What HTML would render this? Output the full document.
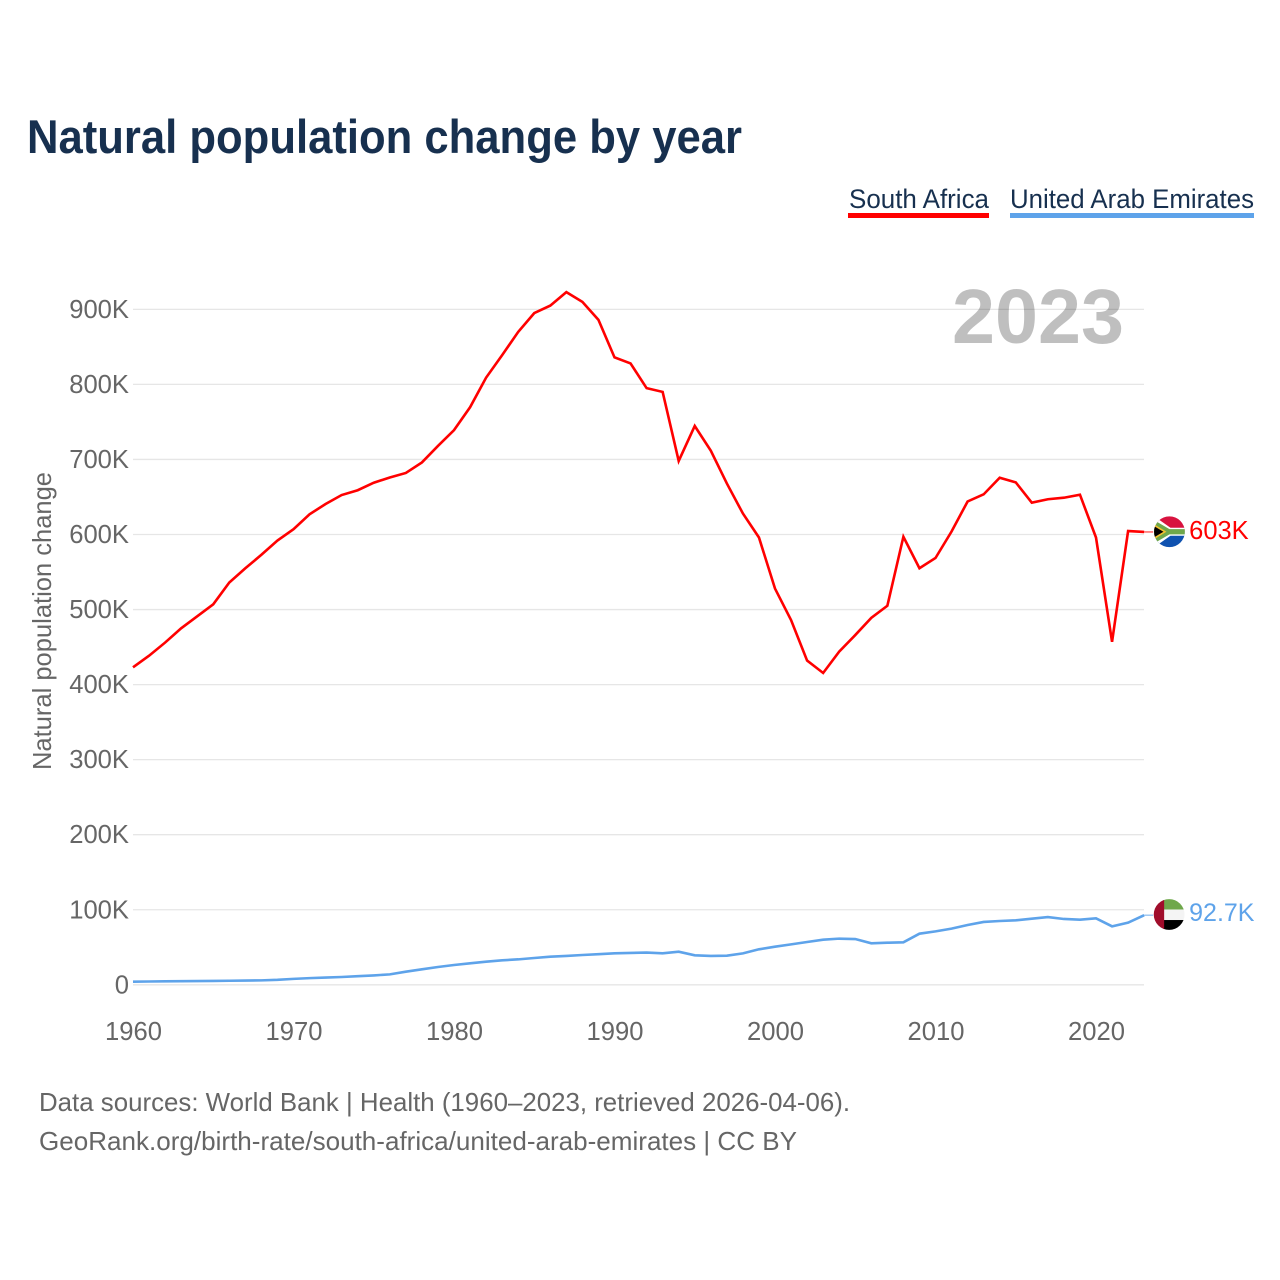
<!DOCTYPE html>
<html lang="en">
<head>
<meta charset="utf-8">
<title>Natural population change by year</title>
<style>
  html, body { margin: 0; padding: 0; background: #fff; }
  svg { display: block; font-family: "Liberation Sans", sans-serif; }
  .tick { font-size: 25.6px; fill: #666; }
  .foot { font-size: 26px; fill: #666; }
  .legend { font-size: 27px; fill: #17304f; }
</style>
</head>
<body>
<svg id="chart" xmlns="http://www.w3.org/2000/svg" width="1280" height="1280" viewBox="0 0 1280 1280">
  <defs>
    <clipPath id="flag-clip"><circle cx="0" cy="0" r="15.4"></circle></clipPath>
  </defs>
  <rect width="1280" height="1280" fill="#fff"></rect>

  <text x="27" y="153" font-size="47" font-weight="700" fill="#17304f" textLength="715" lengthAdjust="spacingAndGlyphs">Natural population change by year</text>

  <g>
    <text class="legend" x="849" y="208" textLength="140" lengthAdjust="spacingAndGlyphs">South Africa</text>
    <rect x="848" y="213" width="141" height="5" fill="#ff0000"></rect>
  </g>
  <g>
    <text class="legend" x="1010" y="208" textLength="244" lengthAdjust="spacingAndGlyphs">United Arab Emirates</text>
    <rect x="1010" y="213" width="244" height="5" fill="#5ea3ea"></rect>
  </g>

  <g id="grid"></g>
  <g id="yticks"></g>
  <g id="xticks"></g>

  <text class="tick" transform="translate(51 621) rotate(-90)" text-anchor="middle" textLength="298" lengthAdjust="spacingAndGlyphs">Natural population change</text>

  <text x="1124" y="343" text-anchor="end" font-size="77" font-weight="700" fill="#000" fill-opacity="0.25" textLength="172" lengthAdjust="spacingAndGlyphs">2023</text>

  <g id="series"></g>

  <g id="flag-za" clip-path="url(#flag-clip)">
    <rect x="-16" y="-16" width="32" height="16" fill="#d8133f"></rect>
    <rect x="-16" y="0" width="32" height="16" fill="#0f52b0"></rect>
    <path d="M-16 -16 L1 -4 L16 -4 L16 4 L1 4 L-16 16 Z" fill="#fff"></path>
    <path d="M-16 -12 L0 -2.6 L16 -2.6 L16 2.6 L0 2.6 L-16 12 Z" fill="#6fa84b"></path>
    <path d="M-16 -8 L-3 0 L-16 8 Z" fill="#f2c230"></path>
    <path d="M-16 -6 L-6 0 L-16 6 Z" fill="#000"></path>
  </g>
  <g id="flag-ae" clip-path="url(#flag-clip)">
    <rect x="-6" y="-16" width="22" height="11" fill="#6fa84b"></rect>
    <rect x="-6" y="-5" width="22" height="10.5" fill="#f4f4f4"></rect>
    <rect x="-6" y="5.5" width="22" height="11" fill="#000"></rect>
    <rect x="-16" y="-16" width="11" height="32" fill="#a00d2b"></rect>
  </g>

  <g id="end-labels"></g>

  <text class="foot" x="39" y="1111" textLength="811" lengthAdjust="spacingAndGlyphs">Data sources: World Bank | Health (1960–2023, retrieved 2026-04-06).</text>
  <text class="foot" x="39" y="1150" textLength="758" lengthAdjust="spacingAndGlyphs">GeoRank.org/birth-rate/south-africa/united-arab-emirates | CC BY</text>
</svg>

<script>
const firstYear = 1960;
const yTickValues = [0, 100, 200, 300, 400, 500, 600, 700, 800, 900];
const xTickYears = [1960, 1970, 1980, 1990, 2000, 2010, 2020];
const southAfrica = [423, 438.5, 456, 475, 491, 507, 536, 555, 573, 592,
  607, 627, 640.6, 652.6, 659, 669, 676, 682, 696, 718,
  739, 769.5, 809, 839, 870, 895, 905, 923, 910, 886,
  836, 828, 795, 790, 698, 744.6, 711.7, 668, 628, 596,
  528, 486, 432, 415.5, 444, 466, 489, 505, 597, 555,
  568.7, 604, 644, 653.5, 675.7, 669.5, 642.4, 647, 649, 653,
  596, 457, 604.6, 603.4];
const uae = [4.2, 4.4, 4.6, 4.8, 5, 5.2, 5.4, 5.6, 5.9, 6.6,
  7.9, 8.9, 9.6, 10.4, 11.5, 12.5, 13.9, 17.5, 20.6, 23.7,
  26.4, 28.6, 30.8, 32.6, 33.9, 35.7, 37.5, 38.4, 39.7, 40.8,
  41.9, 42.4, 43, 41.9, 44.1, 39.3, 38.4, 38.8, 41.9, 47.3,
  50.8, 53.9, 57, 60.1, 61.5, 61, 55.3, 56.1, 56.6, 68.1,
  71.2, 74.8, 79.7, 83.7, 85, 85.9, 88.1, 90.3, 87.7, 86.8,
  88.6, 77.9, 82.8, 92.7];

const NS = 'http://www.w3.org/2000/svg';
function xScale(year) { return 133 + (year - firstYear) * 16.05; }
function yScale(v) { return 984.8 - v * 0.7505; }
function make(tag, parent) {
  const el = document.createElementNS(NS, tag);
  parent.appendChild(el);
  return el;
}
function yLabel(v) { return v === 0 ? '0' : v + 'K'; }
function endLabel(v) { return Number(v.toPrecision(3)) + 'K'; }
function pathFor(values) {
  return values.map(function (v, i) {
    return (i ? 'L' : 'M') + xScale(firstYear + i).toFixed(2) + ' ' + yScale(v).toFixed(2);
  }).join(' ');
}

const gridGroup = document.getElementById('grid');
const yGroup = document.getElementById('yticks');
const xGroup = document.getElementById('xticks');
const seriesGroup = document.getElementById('series');
const labelGroup = document.getElementById('end-labels');

yTickValues.forEach(function (v) {
  const line = make('line', gridGroup);
  
  
  line.setAttribute('x1', 133);
  line.setAttribute('x2', 1144);
  line.setAttribute('y1', yScale(v));
  line.setAttribute('y2', yScale(v));
  line.setAttribute('stroke', '#e6e6e6');
  line.setAttribute('stroke-width', '1.3');

  const label = make('text', yGroup);
  
  
  label.setAttribute('class', 'tick');
  label.setAttribute('x', 129);
  label.setAttribute('y', yScale(v) + 8.5);
  label.setAttribute('text-anchor', 'end');
  label.textContent = yLabel(v);
});

xTickYears.forEach(function (year) {
  const label = make('text', xGroup);
  
  
  label.setAttribute('class', 'tick');
  label.setAttribute('x', xScale(year) + 0.5);
  label.setAttribute('y', 1040);
  label.setAttribute('text-anchor', 'middle');
  label.textContent = String(year);
});

const lastX = xScale(firstYear + southAfrica.length - 1);

const redLine = make('path', seriesGroup);


redLine.setAttribute('d', pathFor(southAfrica));
redLine.setAttribute('fill', 'none');
redLine.setAttribute('stroke', '#ff0000');
redLine.setAttribute('stroke-width', '2.6');
redLine.setAttribute('stroke-linejoin', 'miter');

const blueLine = make('path', seriesGroup);


blueLine.setAttribute('d', pathFor(uae));
blueLine.setAttribute('fill', 'none');
blueLine.setAttribute('stroke', '#5ea3ea');
blueLine.setAttribute('stroke-width', '2.6');

const redConnector = make('line', seriesGroup);


redConnector.setAttribute('x1', lastX);
redConnector.setAttribute('x2', lastX + 9);
redConnector.setAttribute('y1', yScale(southAfrica[southAfrica.length - 1]));
redConnector.setAttribute('y2', yScale(southAfrica[southAfrica.length - 1]));
redConnector.setAttribute('stroke', '#ff0000');
redConnector.setAttribute('stroke-opacity', '0.6');
redConnector.setAttribute('stroke-width', '1.5');

const blueConnector = make('line', seriesGroup);


blueConnector.setAttribute('x1', lastX);
blueConnector.setAttribute('x2', lastX + 9);
blueConnector.setAttribute('y1', yScale(uae[uae.length - 1]));
blueConnector.setAttribute('y2', yScale(uae[uae.length - 1]));
blueConnector.setAttribute('stroke', '#5ea3ea');
blueConnector.setAttribute('stroke-opacity', '0.6');
blueConnector.setAttribute('stroke-width', '1.5');

const redY = yScale(southAfrica[southAfrica.length - 1]);
const blueY = yScale(uae[uae.length - 1]);

document.getElementById('flag-za').setAttribute('transform', 'translate(' + (lastX + 25.3) + ' ' + (redY - 0.2) + ')');
document.getElementById('flag-ae').setAttribute('transform', 'translate(' + (lastX + 25) + ' ' + (blueY - 0.7) + ')');

const redLabel = make('text', labelGroup);


redLabel.setAttribute('x', lastX + 45);
redLabel.setAttribute('y', redY + 7);
redLabel.setAttribute('font-size', '25.5');
redLabel.setAttribute('fill', '#ff0000');
redLabel.textContent = endLabel(southAfrica[southAfrica.length - 1]);

const blueLabel = make('text', labelGroup);


blueLabel.setAttribute('x', lastX + 45);
blueLabel.setAttribute('y', blueY + 5.6);
blueLabel.setAttribute('font-size', '25');
blueLabel.setAttribute('fill', '#5ea3ea');
blueLabel.textContent = endLabel(uae[uae.length - 1]);
</script>
</body>
</html>
